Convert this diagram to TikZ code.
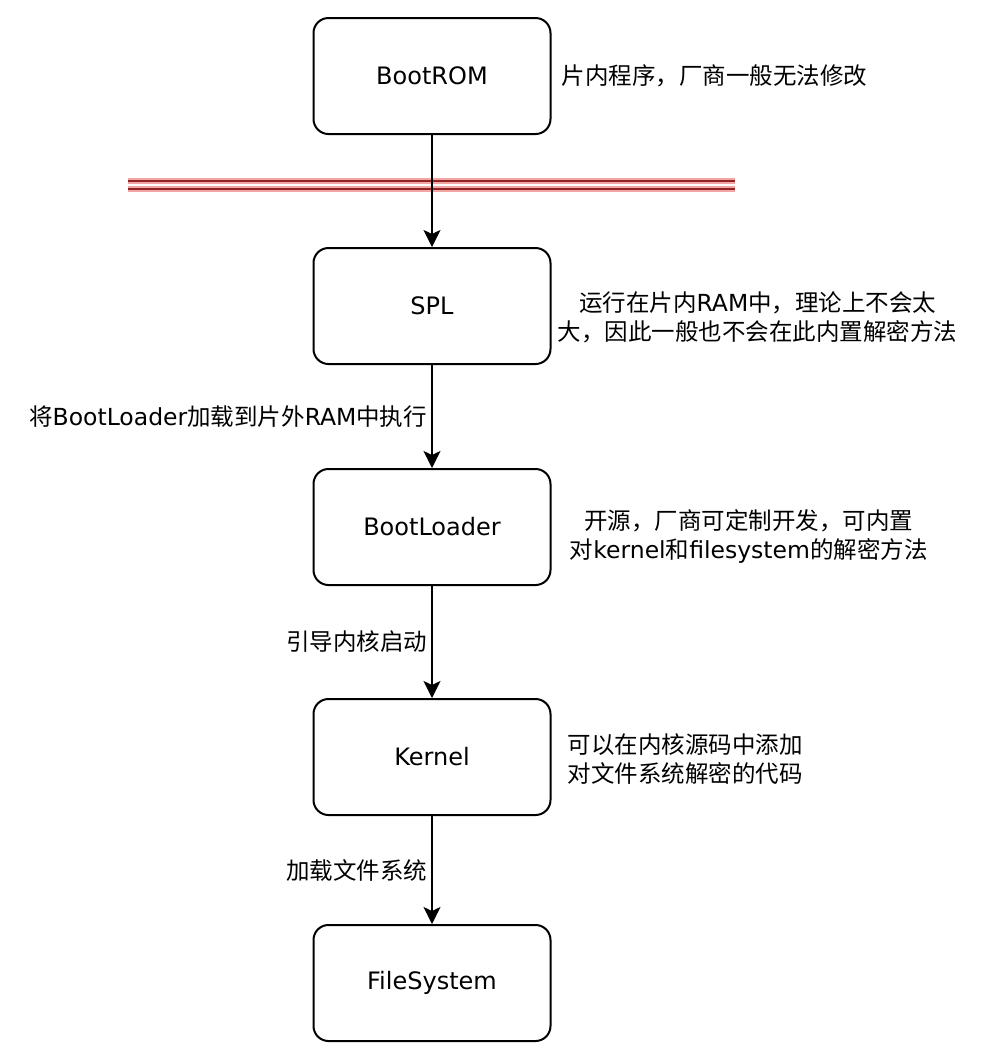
\documentclass[tikz,border=0pt]{standalone}
\usepackage{fontspec}
\setmainfont{DejaVu Sans}
\newfontfamily\cjk{Noto Sans CJK SC}
\newcommand{\zh}[1]{{\cjk #1}}
\usepackage{xcolor}
\definecolor{walldark}{HTML}{8E2424}
\definecolor{wallglow}{HTML}{F2A6A6}
\usetikzlibrary{
    arrows.meta,
    positioning
}

\begin{document}
\begin{tikzpicture}[x=0.5pt, y=-0.5pt,
    font=\fontsize{11.75}{14.5}\selectfont,
    node distance=56pt,
    stagebox/.style={
        rectangle,
        rounded corners=7.5pt,
        draw=black,
        line width=1pt,
        minimum width=118.5pt,
        minimum height=58pt,
        font=\fontsize{12}{14}\selectfont
    },
    note/.style={
        inner sep=0pt,
        align=center
    },
    elabel/.style={left, inner sep=2pt},
    arrow/.style={-{Stealth[length=8.5pt,width=8.5pt,inset=2pt]}, line width=1pt},
    redline/.style={draw=walldark, line width=0.8pt,
        preaction={draw=wallglow, line width=2.6pt}}
]
\useasboundingbox (0,0) rectangle (986,1062);

% ===== boot chain =====
\node[stagebox] (rom) at (432,76) {BootROM};
\node[stagebox, below=56pt of rom] (spl) {SPL};
\node[stagebox, below=51.5pt of spl] (bl) {BootLoader};
\node[stagebox, below=56pt of bl] (kern) {Kernel};
\node[stagebox, below=54pt of kern] (fs) {FileSystem};

% red barrier below BootROM
\coordinate (wallA) at (128,181);
\coordinate (wallB) at (735,181);
\coordinate (wallC) at (128,189);
\coordinate (wallD) at (735,189);
\draw[redline] (wallA) -- (wallB);
\draw[redline] (wallC) -- (wallD);

\draw[arrow] (rom) -- (spl);
\draw[arrow] (spl) -- node[elabel]{\zh{将}BootLoader\zh{加载到片外}RAM\zh{中执行}} (bl);
\draw[arrow] (bl) -- node[elabel]{\zh{引导内核启动}} (kern);
\draw[arrow] (kern) -- node[elabel]{\zh{加载文件系统}} (fs);

% notes on the right
\node[note, right=5pt of rom] (romnote) {\zh{片内程序，厂商一般无法修改}};
\node[note, right=3pt of spl, yshift=-5.5pt] (splnote)
    {\zh{运行在片内}RAM\zh{中，理论上不会太}\\\zh{大，因此一般也不会在此内置解密方法}};
\node[note, right=9pt of bl, yshift=-4.5pt] (blnote)
    {\zh{开源，厂商可定制开发，可内置}\\\zh{对}kernel\zh{和}filesystem\zh{的解密方法}};
\node[note, right=8pt of kern, yshift=-1pt] (kernnote)
    {\zh{可以在内核源码中添加}\\\zh{对文件系统解密的代码}};

\end{tikzpicture}
\end{document}
